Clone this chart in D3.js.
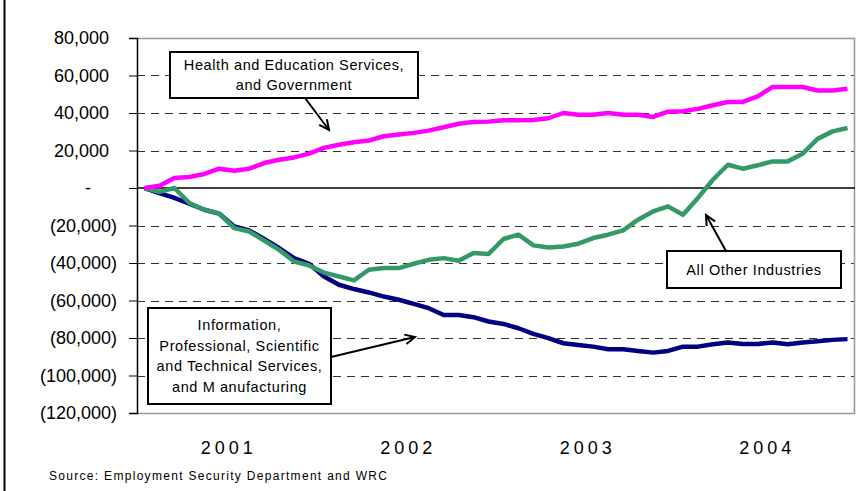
<!DOCTYPE html>
<html>
<head>
<meta charset="utf-8">
<script src="https://cdn.jsdelivr.net/npm/d3@7"></script>
<style>
    body { margin: 0; background: #fff; }
    svg { font-family: "Liberation Sans", Arial, sans-serif; display: block; }
</style>
</head>
<body>
<svg id="drawing_region"></svg>
<script>
const years = ['2001', '2002', '2003', '2004'];
const months = [];
years.forEach( y => { for (let m = 1; m <= 12; m++) months.push(y + '-' + m); });

const yticks = [80000, 60000, 40000, 20000, 0, -20000, -40000, -60000, -80000, -100000, -120000];

const health = [0,1200,5300,5900,7500,10300,9200,10300,13300,15100,16300,18300,
    21400,23100,24400,25300,27600,28500,29400,30600,32400,34300,35200,35400,
    36100,36100,36300,37200,40000,39100,39100,40000,39100,39100,37900,40700,
    40900,42200,44100,45900,45900,48900,53900,53900,53900,52000,52000,52900];

const info = [0,-2700,-5300,-8400,-11600,-13700,-20500,-22600,-27200,-32000,-37400,-40400,
    -47200,-51600,-53900,-55700,-57900,-59600,-61800,-64100,-67700,-67700,-68900,-71200,
    -72500,-74800,-77800,-80100,-82800,-83700,-84600,-86000,-86000,-86900,-87800,-86900,
    -84600,-84600,-83300,-82400,-83200,-83200,-82400,-83300,-82400,-81700,-81000,-80600];

const other = [0,-2100,0,-8000,-11600,-13700,-21400,-23200,-28000,-33000,-39200,-41300,
    -45100,-47200,-49300,-43600,-42700,-42700,-40400,-38300,-37400,-38800,-34700,-35200,
    -27200,-24900,-30600,-31700,-31200,-29700,-26700,-24900,-22600,-16900,-12500,-9800,
    -14300,-5300,4400,12400,10300,12100,14200,14200,18300,26200,30200,32000];

const series = [
    {name: 'info', values: info, color: '#000080'},
    {name: 'other', values: other, color: '#339966'},
    {name: 'health', values: health, color: '#ff00ff'}
];

// callout boxes: position in px, arrow from box edge to the line
const notes = [
    {lines: ['Health and Education Services,', 'and Government'], box: [170, 52, 248, 46], arrow: [305, 98, 329, 130]},
    {lines: ['All Other Industries'], box: [667, 251, 174, 37], arrow: [726, 251, 706, 215]},
    {lines: ['Information,', 'Professional, Scientific', 'and Technical Services,', 'and M anufacturing'], box: [148, 308, 183, 96], arrow: [331, 357, 415, 337]}
];

class LineChart {
    constructor( config ) {
        this.config = config;
        this.init();
    }

    init() {
        let self = this;
        const m = self.config.margin;

        self.svg = d3.select( self.config.parent )
            .attr('width', self.config.width)
            .attr('height', self.config.height);

        self.inner_width = self.config.width - m.left - m.right;
        self.inner_height = self.config.height - m.top - m.bottom;

        self.chart = self.svg.append('g')
            .attr('transform', `translate(${m.left}, ${m.top})`);

        self.xscale = d3.scalePoint()
            .domain( months )
            .range( [0, self.inner_width] )
            .padding(0.5);

        self.yearscale = d3.scaleBand()
            .domain( years )
            .range( [0, self.inner_width] );

        self.yscale = d3.scaleLinear()
            .domain( [-120000, 80000] )
            .range( [self.inner_height, 0] );
    }

    render() {
        let self = this;
        const fmt = d3.format(',');

        // outer frame edge on the left
        self.svg.append('line')
            .attr('x1', 4.5).attr('x2', 4.5)
            .attr('y1', 0).attr('y2', self.config.height)
            .attr('stroke', '#000').attr('stroke-width', 2);

        // grid
        self.chart.selectAll('.grid')
            .data( yticks.filter( d => d != 0 && d != 80000 && d != -120000 ) )
            .enter().append('line')
            .attr('x1', 0).attr('x2', self.inner_width)
            .attr('y1', d => Math.round(self.yscale(d)) + 0.5)
            .attr('y2', d => Math.round(self.yscale(d)) + 0.5)
            .attr('stroke', '#333').attr('stroke-dasharray', '8,6');

        // plot frame
        self.chart.append('path')
            .attr('d', `M0,0.5H${self.inner_width - 0.5}V${self.inner_height + 0.5}H0`)
            .attr('fill', 'none')
            .attr('stroke', '#999').attr('stroke-width', 1.5);

        self.chart.append('line')
            .attr('x1', 0).attr('x2', self.inner_width)
            .attr('y1', self.yscale(0)).attr('y2', self.yscale(0))
            .attr('stroke', '#000').attr('stroke-width', 1.5);

        // y axis
        const yaxis = d3.axisLeft( self.yscale )
            .tickValues( yticks )
            .tickSize(8)
            .tickPadding(12)
            .tickFormat( d => d > 0 ? fmt(d) : d < 0 ? '(' + fmt(-d) + ')' : '-' );

        const yg = self.chart.append('g').call( yaxis );
        yg.select('.domain').attr('stroke', '#000').attr('stroke-width', 1.5);
        yg.selectAll('.tick line').attr('stroke', '#000');
        yg.selectAll('.tick text')
            .attr('font-size', '18px')
            .attr('fill', '#000')
            .attr('x', d => d > 0 ? -28 : d < 0 ? -20 : -46);

        // x axis (years)
        const xaxis = d3.axisBottom( self.yearscale ).tickSize(0).tickPadding(0);
        const xg = self.chart.append('g')
            .attr('transform', `translate(0, ${self.inner_height})`)
            .call( xaxis );
        xg.select('.domain').remove();
        xg.selectAll('.tick text')
            .attr('font-size', '18px')
            .attr('fill', '#000')
            .attr('letter-spacing', '4px')
            .attr('dx', '2px')
            .attr('y', 28);

        // lines
        const line = d3.line()
            .x( (d, i) => self.xscale( months[i] ) )
            .y( d => self.yscale( d ) );

        self.chart.selectAll('.series')
            .data( series )
            .enter().append('path')
            .attr('d', d => line( d.values ))
            .attr('fill', 'none')
            .attr('stroke', d => d.color)
            .attr('stroke-width', 4.5)
            .attr('stroke-linejoin', 'round');

        // callouts
        notes.forEach( n => {
            const [x1, y1, x2, y2] = n.arrow;
            const ang = Math.atan2(y2 - y1, x2 - x1);
            const len = 11, spread = 0.45;
            self.svg.append('line')
                .attr('x1', x1).attr('y1', y1).attr('x2', x2).attr('y2', y2)
                .attr('stroke', '#000').attr('stroke-width', 2);
            self.svg.append('path')
                .attr('d', `M${x2 - len*Math.cos(ang - spread)},${y2 - len*Math.sin(ang - spread)}L${x2},${y2}L${x2 - len*Math.cos(ang + spread)},${y2 - len*Math.sin(ang + spread)}`)
                .attr('fill', 'none')
                .attr('stroke', '#000').attr('stroke-width', 2);

            const [bx, by, bw, bh] = n.box;
            self.svg.append('rect')
                .attr('x', bx).attr('y', by).attr('width', bw).attr('height', bh)
                .attr('fill', '#fff').attr('stroke', '#000').attr('stroke-width', 2);

            const lh = 20.5;
            const y0 = by + bh/2 - (n.lines.length - 1) * lh / 2;
            self.svg.append('text')
                .attr('font-size', '14.5px')
                .attr('letter-spacing', '0.6px')
                .attr('text-anchor', 'middle')
                .selectAll('tspan')
                .data( n.lines )
                .enter().append('tspan')
                .attr('x', bx + bw/2)
                .attr('y', (d, i) => y0 + i * lh)
                .attr('dy', '0.35em')
                .text( d => d );
        });

        self.svg.append('text')
            .attr('x', 49).attr('y', 480)
            .attr('font-size', '12px')
            .attr('letter-spacing', '1.3px')
            .text('Source: Employment Security Department and WRC');
    }
}

const chart = new LineChart({
    parent: '#drawing_region',
    width: 857,
    height: 491,
    margin: {top: 38, right: 2, bottom: 78, left: 137}
});
chart.render();
</script>
</body>
</html>
